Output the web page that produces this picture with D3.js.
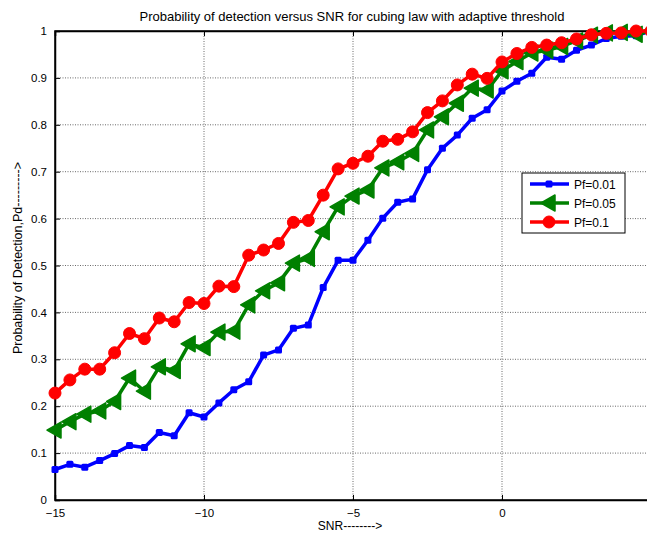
<!DOCTYPE html>
<html>
<head>
<meta charset="utf-8">
<script src="https://cdn.jsdelivr.net/npm/d3@7"></script>
<style>
  body { margin: 0; background: #fff; }
  svg { display: block; font-family: "Liberation Sans", Arial, sans-serif; }
</style>
</head>
<body>
<svg id="chart" width="647" height="537"></svg>
<script>
// SNR values (dB), step 0.5 from -15 to 5
const snr = d3.range(-15, 5.001, 0.5);

// Probability of detection for each Pf
const pd001 = [0.065, 0.076, 0.070, 0.084, 0.099, 0.116, 0.112, 0.144, 0.137, 0.186, 0.177,
  0.207, 0.235, 0.252, 0.309, 0.320, 0.366, 0.373, 0.453, 0.511, 0.511,
  0.554, 0.601, 0.635, 0.642, 0.704, 0.750, 0.778, 0.814, 0.832, 0.872,
  0.893, 0.910, 0.944, 0.940, 0.959, 0.970, 0.984, 0.989, 0.990, 1.000];
const pd005 = [0.149, 0.167, 0.183, 0.190, 0.210, 0.260, 0.232, 0.284, 0.276, 0.333, 0.325,
  0.358, 0.360, 0.416, 0.446, 0.463, 0.505, 0.515, 0.572, 0.625, 0.648,
  0.661, 0.708, 0.721, 0.739, 0.789, 0.817, 0.846, 0.878, 0.874, 0.915,
  0.935, 0.953, 0.959, 0.967, 0.979, 0.991, 0.996, 0.997, 0.993, 1.000];
const pd01 = [0.228, 0.256, 0.279, 0.279, 0.314, 0.355, 0.344, 0.388, 0.380, 0.421, 0.419,
  0.456, 0.455, 0.522, 0.533, 0.547, 0.592, 0.596, 0.650, 0.706, 0.718,
  0.733, 0.765, 0.769, 0.785, 0.826, 0.851, 0.885, 0.908, 0.899, 0.934,
  0.952, 0.965, 0.970, 0.975, 0.983, 0.992, 0.995, 0.996, 1.000, 1.000];

// the 5 tick sits past the window edge in the original, so only these show
const xTicks = [-15, -10, -5, 0];
const yTicks = [0, 0.1, 0.2, 0.3, 0.4, 0.5, 0.6, 0.7, 0.8, 0.9, 1];
const seriesNames = ["Pf=0.01", "Pf=0.05", "Pf=0.1"];
const seriesData = [pd001, pd005, pd01];
const seriesColors = ["#0000ff", "#008000", "#ff0000"];
const seriesMarkers = ["dot", "triangle", "circle"];

const svg = d3.select("#chart");
const margin = { top: 31, right: -4, bottom: 37, left: 55 };
const width = 647 - margin.left - margin.right,
      height = 537 - margin.top - margin.bottom;

const x = d3.scaleLinear().domain([-15, 5]).range([0, width]);
const y = d3.scaleLinear().domain([0, 1]).range([height, 0]);

const g = svg.append("g").attr("transform", `translate(${margin.left},${margin.top})`);

// dotted grid
g.append("g").selectAll("line").data(xTicks.slice(1)).join("line")
  .attr("x1", d => x(d)).attr("x2", d => x(d)).attr("y1", 0).attr("y2", height)
  .attr("stroke", "#444").attr("stroke-width", 0.8).attr("stroke-dasharray", "1,1.5");
g.append("g").selectAll("line").data(yTicks.slice(1, -1)).join("line")
  .attr("y1", d => y(d)).attr("y2", d => y(d)).attr("x1", 0).attr("x2", width)
  .attr("stroke", "#444").attr("stroke-width", 0.8).attr("stroke-dasharray", "1,1.5");

// axes (ticks pointing inward like matlab)
const xAxis = g.append("g").attr("transform", `translate(0,${height})`)
  .call(d3.axisBottom(x).tickValues(xTicks).tickSize(-5).tickPadding(9).tickFormat(d3.format("d")));
const yAxis = g.append("g")
  .call(d3.axisLeft(y).tickValues(yTicks).tickSize(-5).tickPadding(8).tickFormat(d => d === 0 || d === 1 ? d3.format("d")(d) : d3.format(".1f")(d)));
g.append("g").call(d3.axisTop(x).tickValues(xTicks).tickSize(-5).tickFormat(""));
[xAxis, yAxis].forEach(a => {
  a.selectAll("text").attr("font-size", 11.5).attr("fill", "#000").attr("font-family", "Liberation Sans, Arial, sans-serif");
  a.selectAll("line").attr("stroke", "#000");
});
g.selectAll(".domain").attr("stroke", "#000").attr("stroke-width", 1.5);
g.append("rect").attr("width", width).attr("height", height)
  .attr("fill", "none").attr("stroke", "#000").attr("stroke-width", 1.5);

// lines + markers
const line = d3.line().x((d, i) => x(snr[i])).y(d => y(d));

function drawMarker(sel, type, color) {
  if (type === "circle") {
    sel.append("circle").attr("r", 6).attr("fill", color).attr("stroke", color);
  } else if (type === "triangle") {
    sel.append("path").attr("d", "M-8,0L6,-8L6,8Z").attr("fill", color).attr("stroke", color)
      .attr("stroke-width", 1.5).attr("stroke-linejoin", "round");
  } else {
    sel.append("rect").attr("x", -3.5).attr("y", -3.5).attr("width", 7).attr("height", 7)
      .attr("rx", 1.5).attr("fill", color);
  }
}

seriesData.forEach((vals, k) => {
  g.append("path").datum(vals)
    .attr("fill", "none")
    .attr("stroke", seriesColors[k])
    .attr("stroke-width", 3.5)
    .attr("stroke-linejoin", "round")
    .attr("d", line);
  g.append("g").selectAll("g").data(vals).join("g")
    .attr("transform", (d, i) => `translate(${x(snr[i])},${y(d)})`)
    .each(function () { drawMarker(d3.select(this), seriesMarkers[k], seriesColors[k]); });
});

// title and labels
svg.append("text").attr("x", 352).attr("y", 21).attr("text-anchor", "middle")
  .attr("font-size", 13).text("Probability of detection versus SNR for cubing law with adaptive threshold");
svg.append("text").attr("x", 350).attr("y", 530).attr("text-anchor", "middle")
  .attr("font-size", 12).text("SNR-------->");
svg.append("text").attr("transform", "translate(22,258) rotate(-90)").attr("text-anchor", "middle")
  .attr("font-size", 12.5).text("Probability of Detection,Pd--------->");

// legend
const leg = svg.append("g").attr("transform", "translate(522,173)");
leg.append("rect").attr("width", 103).attr("height", 60)
  .attr("fill", "#fff").attr("stroke", "#000").attr("stroke-width", 1);
seriesNames.forEach((name, k) => {
  const row = leg.append("g").attr("transform", `translate(0,${11 + k * 19})`);
  row.append("line").attr("x1", 8).attr("x2", 47).attr("stroke", seriesColors[k]).attr("stroke-width", 3.5);
  const m = row.append("g").attr("transform", "translate(27,0)");
  drawMarker(m, seriesMarkers[k], seriesColors[k]);
  row.append("text").attr("x", 52).attr("y", 4.5).attr("font-size", 12).text(name);
});
</script>
</body>
</html>
